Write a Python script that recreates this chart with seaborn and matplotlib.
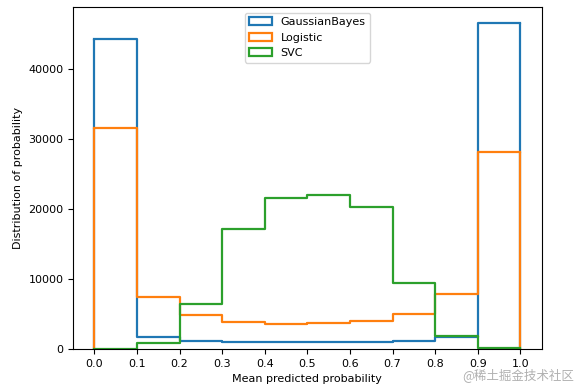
import numpy as np
import pandas as pd
import matplotlib
matplotlib.use("Agg")
import matplotlib.pyplot as plt
from matplotlib.patches import Patch
import seaborn as sns

bin_edges = [0.0, 0.1, 0.2, 0.3, 0.4, 0.5, 0.6, 0.7, 0.8, 0.9, 1.0]
gaussian_counts = [44150, 1700, 1200, 950, 930, 930, 930, 1200, 1650, 46450]
logistic_counts = [31550, 7350, 4800, 3900, 3600, 3700, 4000, 4950, 7800, 28150]
svc_counts = [30, 900, 6400, 17100, 21600, 21900, 20300, 9400, 1800, 200]
series_names = ["GaussianBayes", "Logistic", "SVC"]
colors = ["#1f77b4", "#ff7f0e", "#2ca02c"]

plt.rcParams["font.size"] = 8
fig = plt.figure(figsize=(5.8, 3.89), dpi=100)
ax = fig.add_axes([0.126, 0.103, 0.808, 0.879])

lw = 1.6
centers = [(bin_edges[i] + bin_edges[i + 1]) / 2 for i in range(len(bin_edges) - 1)]
for name, counts, c in zip(series_names, [gaussian_counts, logistic_counts, svc_counts], colors):
    df = pd.DataFrame({"p": centers, "w": counts})
    sns.histplot(data=df, x="p", weights="w", bins=bin_edges, element="step",
                 fill=False, color=c, linewidth=lw, ax=ax)
    # close the outline at both ends, like a step histogram
    ax.vlines([bin_edges[0], bin_edges[-1]], 0, [counts[0], counts[-1]],
              colors=c, linewidth=lw)

ax.set_xticks(bin_edges)
ax.set_xticklabels([f"{v:.1f}" for v in bin_edges])
ax.set_xlim(-0.05, 1.05)
ax.set_ylim(0, max(gaussian_counts) * 1.05)
ax.set_xlabel("Mean predicted probability")
ax.set_ylabel("Distribution of probability")

handles = [Patch(facecolor="none", edgecolor=c, linewidth=lw) for c in colors]
ax.legend(handles, series_names, loc="upper center")

fig.text(0.99, 0.035, "@稀土掘金技术社区", ha="right", va="center", color="#b0b0b0",
         fontsize=9, family=["Noto Sans CJK SC", "DejaVu Sans"])

fig.savefig("out.png", dpi=100)
